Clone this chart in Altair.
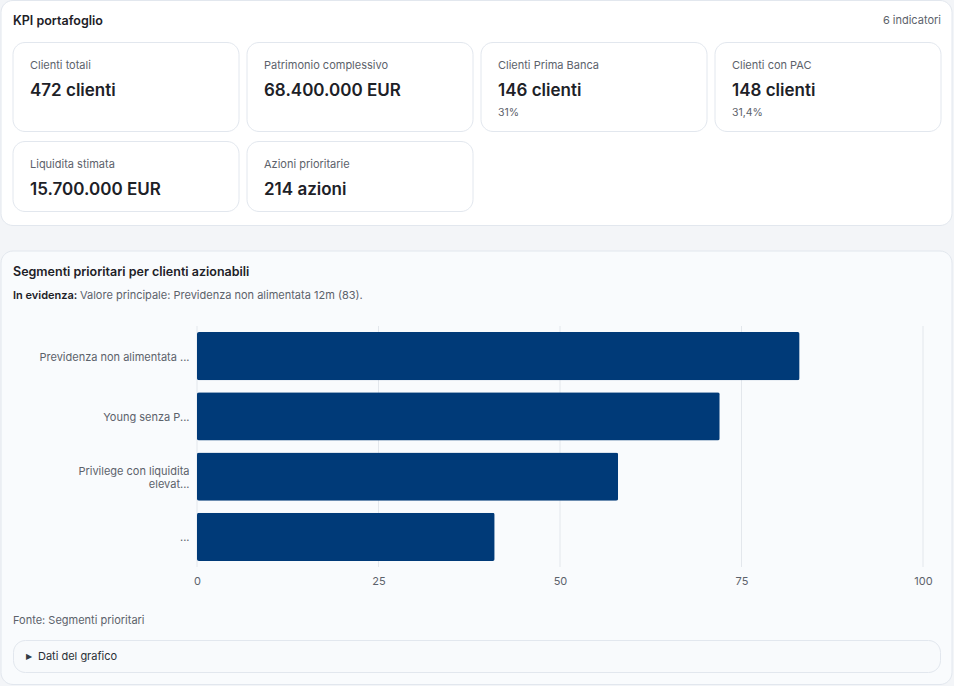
import altair as alt
import pandas as pd

# ---------------- data ----------------
kpi_labels = ["Clienti totali", "Patrimonio complessivo", "Clienti Prima Banca",
              "Clienti con PAC", "Liquidita stimata", "Azioni prioritarie"]
kpi_values = ["472 clienti", "68.400.000 EUR", "146 clienti", "148 clienti",
              "15.700.000 EUR", "214 azioni"]
kpi_notes = ["", "", "31%", "31,4%", "", ""]

seg_labels = ["Previdenza non alimentata ...", "Young senza P...",
              "Privilege con liquidita\nelevat...", "..."]
seg_values = [83, 72, 58, 41]
x_ticks = [0, 25, 50, 75, 100]

header_title = "KPI portafoglio"
header_count = "6 indicatori"
chart_title = "Segmenti prioritari per clienti azionabili"
highlight_lead = "In evidenza:"
highlight_text = "Valore principale: Previdenza non alimentata 12m (83)."
source_text = "Fonte: Segmenti prioritari"
details_text = "Dati del grafico"

# ---------------- layout ----------------
W, H = 954, 686
OX, OY = 197, 326          # plot-area origin on the page
PW, PH = 726, 241          # plot-area size
FONT = "Inter"
DARK = "#1d2127"
GREY = "#5c626b"
BORDER = "#e2e7ee"
BAR = "#003a78"

kpi = pd.DataFrame({"label": kpi_labels, "value": kpi_values, "note": kpi_notes})
kpi["idx"] = range(len(kpi))
kpi["col"] = kpi["idx"] % 4
kpi["row"] = kpi["idx"] // 4

seg = pd.DataFrame({"segment": seg_labels, "clienti": seg_values})
grid = pd.DataFrame({"tick": x_ticks})
one = pd.DataFrame({"k": [0]})


def px(v):
    return alt.value(v - OX)


def py(v):
    return alt.value(v - OY)


def box(x1, x2, y1, y2, fill, stroke, r):
    return alt.Chart(one).mark_rect(
        fill=fill, stroke=stroke, strokeWidth=1, cornerRadius=r
    ).encode(x=px(x1), x2=px(x2), y=py(y1), y2=py(y2))


def label(text, x, y, size, color, weight="normal", align="left", font=FONT):
    return alt.Chart(one).mark_text(
        text=text, align=align, baseline="middle", fontSize=size,
        color=color, fontWeight=weight, font=font
    ).encode(x=px(x), y=py(y))


# page cards
top_card = box(1, 952, 0.5, 225.5, "#ffffff", BORDER, 12)
bottom_card = box(1, 952, 251, 684.5, "#f9fbfd", BORDER, 12)
details_box = box(13.5, 940.5, 640.5, 672.5, "#f8fafc", BORDER, 12)

# KPI grid through band scales
col_scale = alt.Scale(type="band", domain=[0, 1, 2, 3], range=[13 - OX, 941 - OX],
                      paddingInner=8 / 234, paddingOuter=0)
row_scale = alt.Scale(type="band", domain=[0, 1], range=[42 - OY, 240 - OY],
                      paddingInner=0, paddingOuter=0)


def kpi_rects(r, y1, y2):
    return alt.Chart(kpi).transform_filter(f"datum.row == {r}").mark_rect(
        fill="#ffffff", stroke=BORDER, strokeWidth=1, cornerRadius=12
    ).encode(
        x=alt.X("col:O", scale=col_scale, axis=None),
        y=alt.Y("row:O", scale=alt.Scale(type="band", domain=[r],
                                         range=[y1 - OY, y2 - OY],
                                         paddingInner=0, paddingOuter=0), axis=None),
    )


cards_r1 = kpi_rects(0, 42.5, 131.5)
cards_r2 = kpi_rects(1, 141.5, 211.5)

kx = alt.X("col:O", scale=col_scale, axis=None, bandPosition=0)
ky = alt.Y("row:O", scale=row_scale, axis=None, bandPosition=0)

kpi_label_txt = alt.Chart(kpi).mark_text(
    align="left", baseline="middle", dx=17, dy=23.5, fontSize=11,
    color=GREY, font=FONT
).encode(x=kx, y=ky, text="label:N")

kpi_value_txt = alt.Chart(kpi).mark_text(
    align="left", baseline="middle", dx=17, dy=48.5, fontSize=17,
    fontWeight=600, color=DARK, font=FONT
).encode(x=kx, y=ky, text="value:N")

kpi_note_txt = alt.Chart(kpi).transform_filter("datum.note != ''").mark_text(
    align="left", baseline="middle", dx=17, dy=70.5, fontSize=10.5,
    color=GREY, font=FONT
).encode(x=kx, y=ky, text="note:N")

# bar chart
gridlines = alt.Chart(grid).mark_rule(color="#e3e7ec", strokeWidth=1).encode(
    x=alt.X("tick:Q", scale=alt.Scale(domain=[0, 100]), axis=None),
    y=alt.value(0), y2=alt.value(PH),
)

bars = alt.Chart(seg).mark_bar(color=BAR, cornerRadius=2).encode(
    x=alt.X("clienti:Q", scale=alt.Scale(domain=[0, 100]),
            axis=alt.Axis(values=x_ticks, grid=False, domain=False, ticks=False,
                          tickSize=0, labelPadding=8, labelFontSize=11,
                          labelFlush=False, labelColor=GREY, labelFont=FONT,
                          title=None, zindex=1)),
    y=alt.Y("segment:N", sort=seg_labels,
            scale=alt.Scale(paddingInner=0.2, paddingOuter=0.1),
            axis=alt.Axis(title=None, domain=False, ticks=False, tickSize=0,
                          labelPadding=8, labelFontSize=11, labelColor=GREY,
                          labelFont=FONT, labelLimit=400, labelLineHeight=12.5,
                          labelOffset={"condition": {"test": "indexof(datum.label, '\\n') >= 0",
                                                     "value": -4.5},
                                       "value": 1.5},
                          labelExpr="split(datum.label, '\\n')", zindex=1)),
)

texts = [
    label(header_title, 13, 21, 12.5, DARK, weight=600),
    label(header_count, 941, 21, 11, GREY, align="right"),
    label(chart_title, 13, 272, 12.5, DARK, weight=600),
    label(highlight_lead, 13, 296, 11, DARK, weight=600),
    label(highlight_text, 80, 296, 11, GREY),
    label(source_text, 13, 621, 11, GREY),
    label("\u25B6", 26, 656.5, 8, "#333a44", font="DejaVu Sans"),
    label(details_text, 38, 656.5, 11, "#2a2f36"),
]

chart = alt.layer(
    top_card, bottom_card, details_box,
    cards_r1, cards_r2, kpi_label_txt, kpi_value_txt, kpi_note_txt,
    gridlines, bars, *texts
).resolve_scale(
    x="independent", y="independent"
).properties(
    width=PW, height=PH,
    padding={"left": OX, "top": OY, "right": W - OX - PW, "bottom": H - OY - PH},
    autosize=alt.AutoSizeParams(type="none"),
    background="#f3f5f8",
).configure_view(strokeWidth=0)

chart.save("out.html", embed_options={"renderer": "svg", "actions": False})
